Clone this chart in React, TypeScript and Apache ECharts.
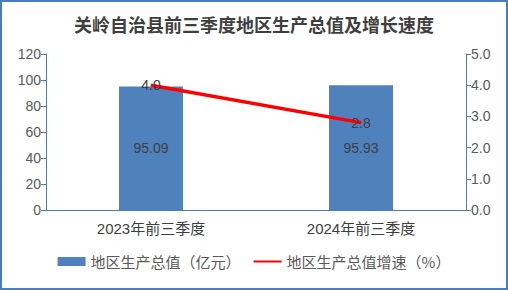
import React, { useEffect, useRef } from "react";
import * as echarts from "echarts";

const categories = ["2023年前三季度", "2024年前三季度"];
const gdpValues = [95.09, 95.93];
const growthValues = [4.0, 2.8];
const leftTicks = { min: 0, max: 120, interval: 20 };
const rightTicks = { min: 0, max: 5, interval: 1 };
const titleText = "关岭自治县前三季度地区生产总值及增长速度";
const gdpName = "地区生产总值（亿元）";
const growthName = "地区生产总值增速（%）";

const axisBlue = "#4a7ebb";
const textGray = "#595959";
const textDark = "#404040";
const font = "'Liberation Sans', 'Noto Sans CJK SC', sans-serif";

export default function App() {
  const ref = useRef<HTMLDivElement>(null);
  useEffect(() => {
    if (!ref.current) return;
    const chart = echarts.init(ref.current, undefined, { renderer: "svg" });
    chart.setOption({
      animation: false,
      backgroundColor: "#ffffff",
      textStyle: { fontFamily: font },
      title: {
        text: titleText,
        left: "center",
        top: 10,
        textStyle: {
          fontFamily: "'Noto Sans CJK SC', sans-serif",
          fontSize: 18,
          fontWeight: "bold",
          color: "#3f3f3f",
        },
      },
      graphic: [
        {
          type: "rect",
          shape: { x: 1, y: 1, width: 506, height: 288 },
          style: { fill: "none", stroke: axisBlue, lineWidth: 2 },
          silent: true,
        },
      ],
      legend: {
        bottom: 16,
        left: "center",
        itemWidth: 28,
        itemHeight: 9,
        itemGap: 12,
        textStyle: { fontSize: 15, color: textGray, fontFamily: "'Noto Sans CJK SC', sans-serif" },
        data: [
          { name: gdpName, icon: "rect" },
          { name: growthName, itemStyle: { opacity: 0 } },
        ],
      },
      grid: { left: 46, right: 42, top: 54, bottom: 80 },
      xAxis: {
        type: "category",
        data: categories,
        axisLine: { lineStyle: { color: axisBlue, width: 1 } },
        axisTick: { show: false },
        axisLabel: {
          fontSize: 15,
          color: textDark,
          margin: 11,
          fontFamily: "'Liberation Sans', 'Noto Sans CJK SC', sans-serif",
        },
      },
      yAxis: [
        {
          type: "value",
          min: leftTicks.min,
          max: leftTicks.max,
          interval: leftTicks.interval,
          axisLine: { show: true, lineStyle: { color: axisBlue } },
          axisTick: { show: true, length: 5, lineStyle: { color: axisBlue } },
          splitLine: { show: false },
          axisLabel: { fontSize: 14, color: textGray, margin: 5 },
        },
        {
          type: "value",
          min: rightTicks.min,
          max: rightTicks.max,
          interval: rightTicks.interval,
          position: "right",
          axisLine: { show: true, lineStyle: { color: axisBlue } },
          axisTick: { show: true, length: 5, lineStyle: { color: axisBlue } },
          splitLine: { show: false },
          axisLabel: {
            fontSize: 14,
            color: textGray,
            margin: 5,
            formatter: (v: number) => v.toFixed(1),
          },
        },
      ],
      series: [
        {
          name: gdpName,
          type: "bar",
          data: gdpValues,
          barWidth: 64,
          itemStyle: { color: "#4f81bd" },
          label: {
            show: true,
            position: "inside",
            fontSize: 14,
            color: textDark,
            formatter: (p: any) => p.value.toFixed(2),
          },
        },
        {
          name: growthName,
          type: "line",
          yAxisIndex: 1,
          data: growthValues,
          symbol: "circle",
          symbolSize: 1,
          showSymbol: true,
          lineStyle: { color: "#ff0000", width: 3.5 },
          itemStyle: { color: "#ff0000" },
          z: 3,
          label: {
            show: true,
            position: "inside",
            fontSize: 14,
            color: textDark,
            formatter: (p: any) => Number(p.value).toFixed(1),
          },
        },
      ],
    });
    return () => chart.dispose();
  }, []);
  return (
    <div
      ref={ref}
      style={{ position: "fixed", left: 0, top: 0, width: 508, height: 290 }}
    />
  );
}
